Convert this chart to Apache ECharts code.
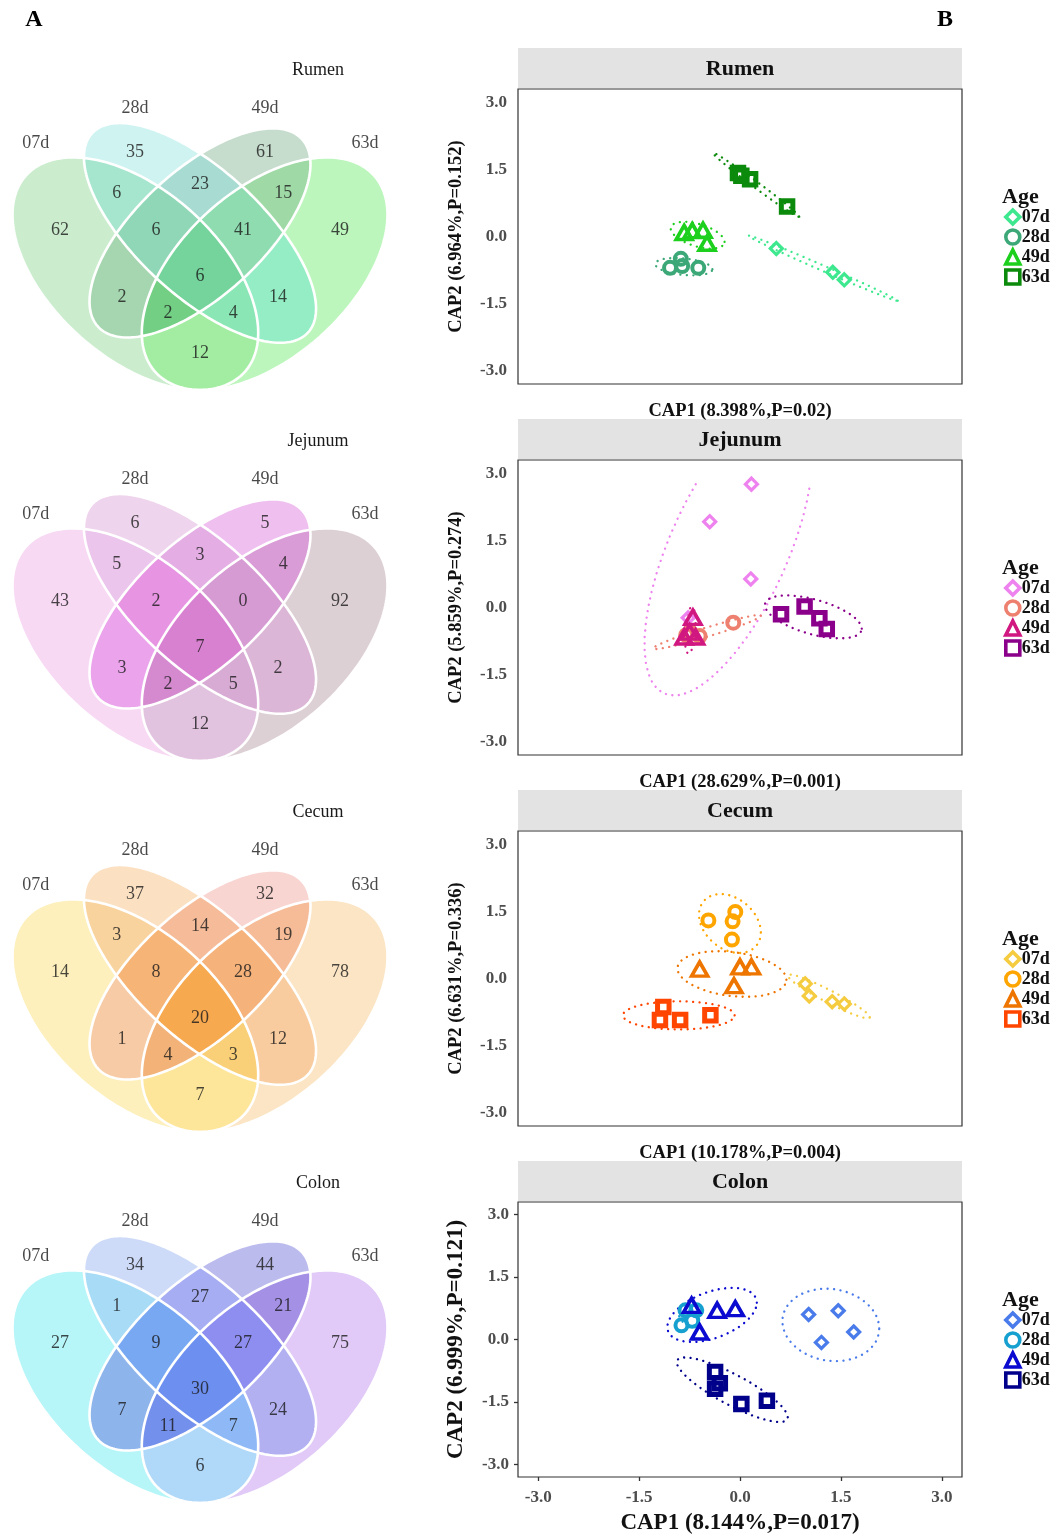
<!DOCTYPE html>
<html>
<head>
<meta charset="utf-8">
<script src="https://cdn.jsdelivr.net/npm/echarts@6/dist/echarts.min.js"></script>
<style>
html,body{margin:0;padding:0;background:#ffffff;}
#chart{width:1060px;height:1537px;}
</style>
</head>
<body>
<div id="chart"></div>
<script>
// ================= DATA =================
const tissues = ['Rumen', 'Jejunum', 'Cecum', 'Colon'];
const ages = ['07d', '28d', '49d', '63d'];
// Venn regions: A=07d, B=28d, C=49d, D=63d
const regionKeys = ['A','B','C','D','AB','BC','CD','ABC','BCD','ABCD','AC','ACD','ABD','BD','AD'];
const rumenCounts   = [62, 35, 61, 49, 6, 23, 15, 6, 41, 6, 2, 2, 4, 14, 12];
const jejunumCounts = [43, 6, 5, 92, 5, 3, 4, 2, 0, 7, 3, 2, 5, 2, 12];
const cecumCounts   = [14, 37, 32, 78, 3, 14, 19, 8, 28, 20, 1, 4, 3, 12, 7];
const colonCounts   = [27, 34, 44, 75, 1, 27, 21, 9, 27, 30, 7, 11, 7, 24, 6];

// CAP scores [CAP1, CAP2]
const rumen07d = [[0.54,-0.27],[1.38,-0.80],[1.55,-0.97]];
const rumen28d = [[-1.04,-0.70],[-0.88,-0.50],[-0.86,-0.66],[-0.62,-0.70]];
const rumen49d = [[-0.83,0.09],[-0.71,0.13],[-0.55,0.14],[-0.49,-0.15]];
const rumen63d = [[-0.03,1.42],[0.02,1.36],[0.15,1.28],[0.70,0.67]];

const jejunum07d = [[0.17,2.76],[-0.45,1.92],[0.16,0.64],[-0.77,-0.23]];
const jejunum28d = [[-0.80,-0.62],[-0.74,-0.55],[-0.60,-0.64],[-0.10,-0.34]];
const jejunum49d = [[-0.70,-0.22],[-0.83,-0.66],[-0.66,-0.66],[-0.75,-0.55]];
const jejunum63d = [[0.61,-0.15],[0.96,0.02],[1.18,-0.24],[1.29,-0.48]];

const cecum07d = [[0.97,-0.12],[1.03,-0.39],[1.37,-0.52],[1.55,-0.57]];
const cecum28d = [[-0.47,1.30],[-0.07,1.49],[-0.11,1.28],[-0.12,0.87]];
const cecum49d = [[-0.60,0.21],[0.00,0.26],[0.17,0.26],[-0.09,-0.16]];
const cecum63d = [[-1.14,-0.64],[-1.19,-0.93],[-0.89,-0.93],[-0.44,-0.82]];

const colon07d = [[1.02,0.60],[1.46,0.69],[1.69,0.18],[1.21,-0.07]];
const colon28d = [[-0.81,0.70],[-0.65,0.70],[-0.87,0.34],[-0.71,0.45]];
const colon49d = [[-0.72,0.82],[-0.34,0.70],[-0.07,0.74],[-0.60,0.18]];
const colon63d = [[-0.37,-0.78],[-0.30,-1.05],[-0.37,-1.18],[0.02,-1.55],[0.40,-1.47]];

// confidence ellipses: [centerX, centerY, halfRangeX, halfRangeY, correlation]
const rumenEllipses   = [[1.235,-0.71,1.11,0.73,-0.996],[-0.835,-0.675,0.425,0.195,-0.3],[-0.63,0.03,0.40,0.30,-0.5],[0.24,1.155,0.64,0.715,-0.993]];
const jejunumEllipses = [[-0.17,1.30,1.25,3.27,0.65],[-0.49,-0.55,0.80,0.38,0.96],[-0.74,-0.51,0.08,0.52,0.3],[1.09,-0.21,0.72,0.48,-0.55]];
const cecumEllipses   = [[1.32,-0.40,0.61,0.49,-0.95],[-0.15,1.23,0.46,0.66,-0.3],[-0.12,0.10,0.81,0.51,-0.25],[-0.91,-0.825,0.83,0.315,0.0]];
const colonEllipses   = [[1.35,0.35,0.72,0.87,-0.1],[-0.76,0.55,0.15,0.22,-0.3],[-0.415,0.59,0.665,0.65,0.45],[-0.115,-1.205,0.825,0.775,-0.85]];

const cap1Labels = ['CAP1 (8.398%,P=0.02)','CAP1 (28.629%,P=0.001)','CAP1 (10.178%,P=0.004)','CAP1 (8.144%,P=0.017)'];
const cap2Labels = ['CAP2 (6.964%,P=0.152)','CAP2 (5.859%,P=0.274)','CAP2 (6.631%,P=0.336)','CAP2 (6.999%,P=0.121)'];
const tickValues = [-3, -1.5, 0, 1.5, 3];

// ================= LAYOUT / STYLE =================
const SERIF = '"Liberation Serif", "Times New Roman", serif';
// VennDiagram quad layout in unit square: [cx, cy, a, b, rotationDeg] for A,B,C,D
const vennEllipses = [[0.35,0.47,0.35,0.20,135],[0.50,0.57,0.35,0.15,135],[0.50,0.57,0.33,0.15,45],[0.65,0.47,0.35,0.20,45]];
const regionLabelPos = [[0.175,0.577],[0.349,0.768],[0.651,0.768],[0.825,0.577],[0.307,0.668],[0.5,0.69],[0.693,0.668],[0.398,0.577],[0.600,0.577],[0.5,0.464],[0.319,0.413],[0.426,0.374],[0.577,0.374],[0.681,0.413],[0.5,0.276]];
const setLabelPos = [[0.119,0.790],[0.349,0.876],[0.651,0.876],[0.883,0.790]];
const vennFills = [
  ['#cbedce','#cff3f1','#c6dccd','#bdf6bd','#a6e6cf','#a8dcd2','#9fd9a6','#8fd7b6','#8edcb0','#74d49c','#a6d6b0','#72cf84','#8ae6b5','#94edc4','#a2eda2'],
  ['#f8d9f4','#eed4ec','#efbff0','#ddd0d4','#ebc5ec','#e4aee4','#d99cd6','#e795e2','#d79bd4','#d981d1','#eba4eb','#d58ad0','#d8abd4','#dcb6d6','#e2c3df'],
  ['#fdf0bc','#fbe0c2','#f9d5d1','#fbe5c4','#f9d39e','#f6bc9a','#f6bc98','#f6b577','#f5b27b','#f6a94f','#f7cba5','#f3b378','#f9d078','#f8cc9e','#fde59a'],
  ['#b6f5f8','#cedbf8','#bcbbee','#e1caf7','#a8dcf6','#a6adf3','#a491e6','#78a8f2','#8e8ef0','#6c8ff0','#8eb4ec','#7390ec','#8fb9f6','#b3b0f2','#b0d8f8']
];
const groupColors = [
  ['#3ee88f','#3ca878','#1ed01e','#0b8a0b'],
  ['#ee82ee','#ee8070','#d01880','#8b008b'],
  ['#f5cc40','#ffa500','#ee7600','#ff4500'],
  ['#4a7bea','#16a0d0','#0a0ad0','#00008b']
];
const shapes = ['diamond','circle','triangle','rect'];
const symbolSizes = [12, 12, [16,14], 11.5];
const borderWidths = [3.2, 4, 3.6, 5];

const PANEL_DY = 371;
const VX0 = 200, VKX = 431, VY0 = 390, VKY = 408;
const vGridTop = 40, vGridH = 360, vGridLeft = 0, vGridW = 420;
const uMin = 0.5 + (vGridLeft - VX0) / VKX;
const uMax = 0.5 + (vGridLeft + vGridW - VX0) / VKX;
const vMax = 0.185 + (VY0 - vGridTop) / VKY;
const vMin = 0.185 + (VY0 - vGridTop - vGridH) / VKY;

const sGridLeft = 518, sGridW = 444;
const sGridTop = [89, 460, 831, 1202];
const sGridH = [295, 295, 295, 275];
const legendTop = [208, 579, 950, 1311];
const ageY = [197, 568, 939, 1300];

const pointsBy = [
  [rumen07d, rumen28d, rumen49d, rumen63d],
  [jejunum07d, jejunum28d, jejunum49d, jejunum63d],
  [cecum07d, cecum28d, cecum49d, cecum63d],
  [colon07d, colon28d, colon49d, colon63d]
];
const countsBy = [rumenCounts, jejunumCounts, cecumCounts, colonCounts];
const ellipsesBy = [rumenEllipses, jejunumEllipses, cecumEllipses, colonEllipses];

// region code (bitmask A=1,B=2,C=4,D=8) -> index
const codeToRegion = {};
regionKeys.forEach((key, i) => {
  let c = 0;
  for (const ch of key) c |= (1 << 'ABCD'.indexOf(ch));
  codeToRegion[c] = i;
});

function ellipseInterval(el, v) {
  const [cx, cy, a, b, deg] = el;
  const th = deg * Math.PI / 180, c = Math.cos(th), s = Math.sin(th);
  const dy = v - cy;
  const A = c * c / (a * a) + s * s / (b * b);
  const B = 2 * dy * c * s * (1 / (a * a) - 1 / (b * b));
  const C = dy * dy * (s * s / (a * a) + c * c / (b * b)) - 1;
  const disc = B * B - 4 * A * C;
  if (disc <= 0) return null;
  const sq = Math.sqrt(disc);
  return [cx + (-B - sq) / (2 * A), cx + (-B + sq) / (2 * A)];
}

function vennRender(k) {
  return function (params, api) {
    const c00 = api.coord([0, 0]), c11 = api.coord([1, 1]);
    const X0 = c00[0], KX = c11[0] - c00[0], Y0 = c00[1], KY = c11[1] - c00[1];
    const fills = vennFills[k];
    const children = [];
    const yStart = Math.floor(Y0 + 0.95 * KY), yEnd = Math.ceil(Y0 + 0.1 * KY);
    for (let py = yStart; py < yEnd; py++) {
      const v = (py + 0.5 - Y0) / KY;
      const ivs = [], pts = [];
      for (let e = 0; e < 4; e++) {
        const iv = ellipseInterval(vennEllipses[e], v);
        ivs.push(iv);
        if (iv) pts.push(iv[0], iv[1]);
      }
      if (!pts.length) continue;
      pts.sort((p, q) => p - q);
      for (let j = 0; j < pts.length - 1; j++) {
        const a = pts[j], b = pts[j + 1];
        if (b - a < 1e-9) continue;
        const m = (a + b) / 2;
        let code = 0;
        for (let e = 0; e < 4; e++) {
          const iv = ivs[e];
          if (iv && m >= iv[0] && m <= iv[1]) code |= (1 << e);
        }
        if (!code) continue;
        const x1 = X0 + a * KX, x2 = X0 + b * KX;
        children.push({type: 'rect', shape: {x: x1 - 0.4, y: py, width: x2 - x1 + 0.8, height: 1},
          style: {fill: fills[codeToRegion[code]]}});
      }
    }
    for (const el of vennEllipses) {
      const [cx, cy, a, b, deg] = el;
      const th = deg * Math.PI / 180;
      const poly = [];
      for (let i = 0; i < 240; i++) {
        const t = 2 * Math.PI * i / 240;
        const u = cx + a * Math.cos(t) * Math.cos(th) - b * Math.sin(t) * Math.sin(th);
        const w = cy + a * Math.cos(t) * Math.sin(th) + b * Math.sin(t) * Math.cos(th);
        poly.push(api.coord([u, w]));
      }
      children.push({type: 'polygon', shape: {points: poly}, style: {fill: 'none', stroke: '#ffffff', lineWidth: 2.6}});
    }
    return {type: 'group', children: children};
  };
}

function ellipsePathRender(k) {
  return function (params, api) {
    const cx = api.value(0), cy = api.value(1), sx = api.value(2), sy = api.value(3), r = api.value(4), gi = api.value(5);
    const n = 51, rr = Math.sqrt(Math.max(0, 1 - r * r));
    const runs = [];
    let cur = null;
    for (let i = 0; i <= n; i++) {
      const t = 2 * Math.PI * i / n;
      const x = cx + sx * Math.cos(t);
      const y = cy + sy * (r * Math.cos(t) + rr * Math.sin(t));
      if (Math.abs(x) <= 3 && Math.abs(y) <= 3) {
        if (!cur) { cur = {start: i, end: i, pts: []}; runs.push(cur); }
        cur.pts.push(api.coord([x, y]));
        cur.end = i;
      } else {
        cur = null;
      }
    }
    if (runs.length > 1 && runs[0].start === 0 && runs[runs.length - 1].end === n) {
      const last = runs.pop();
      runs[0].pts = last.pts.concat(runs[0].pts.slice(1));
    }
    return {
      type: 'group',
      children: runs.filter(q => q.pts.length > 1).map(q => ({
        type: 'polyline', shape: {points: q.pts},
        style: {fill: 'none', stroke: groupColors[k][gi], lineWidth: 2.3, lineDash: [0.1, 6.4], lineCap: 'round'}
      }))
    };
  };
}

// ================= OPTION =================
const grid = [], xAxis = [], yAxis = [], series = [], legend = [], graphic = [];

for (let k = 0; k < 4; k++) {
  grid.push({left: vGridLeft, top: vGridTop + PANEL_DY * k, width: vGridW, height: vGridH, show: false, outerBoundsMode: 'none'});
  xAxis.push({type: 'value', gridIndex: k, min: uMin, max: uMax, show: false});
  yAxis.push({type: 'value', gridIndex: k, min: vMin, max: vMax, show: false});
}
for (let k = 0; k < 4; k++) {
  const big = k === 3;
  grid.push({left: sGridLeft, top: sGridTop[k], width: sGridW, height: sGridH[k], show: true,
    borderColor: '#333333', borderWidth: 1.2, backgroundColor: '#ffffff', outerBoundsMode: 'none'});
  xAxis.push({
    type: 'value', gridIndex: 4 + k, min: -3.3, max: 3.3, position: 'bottom',
    splitLine: {show: false}, axisLine: {show: false, onZero: false},
    axisTick: {show: big, customValues: tickValues, length: 4, lineStyle: {color: '#333333', width: 1.3}},
    axisLabel: {show: big, customValues: tickValues, formatter: v => Number(v).toFixed(1), margin: 12,
      fontFamily: SERIF, fontWeight: 'bold', fontSize: 17, color: '#4d4d4d'},
    name: cap1Labels[k], nameLocation: 'middle', nameGap: big ? 35 : 18, nameMoveOverlap: false,
    nameTextStyle: {fontFamily: SERIF, fontWeight: 'bold', fontSize: big ? 23 : 18.5, color: '#111111', verticalAlign: 'top'}
  });
  yAxis.push({
    type: 'value', gridIndex: 4 + k, min: -3.3, max: 3.3, position: 'left',
    splitLine: {show: false}, axisLine: {show: false, onZero: false},
    axisTick: {show: big, customValues: tickValues, length: 4, lineStyle: {color: '#333333', width: 1.3}},
    axisLabel: {show: true, customValues: tickValues, formatter: v => Number(v).toFixed(1), margin: big ? 9 : 11,
      fontFamily: SERIF, fontWeight: 'bold', fontSize: 17, color: '#4d4d4d'},
    name: cap2Labels[k], nameLocation: 'middle', nameGap: big ? 50 : 52, nameMoveOverlap: false,
    nameTextStyle: {fontFamily: SERIF, fontWeight: 'bold', fontSize: big ? 23 : 18.5, color: '#111111'}
  });
}

for (let k = 0; k < 4; k++) {
  // Venn regions + outlines
  series.push({type: 'custom', xAxisIndex: k, yAxisIndex: k, data: [[0.5, 0.5]], renderItem: vennRender(k), silent: true, z: 1});
  // region counts
  series.push({
    type: 'scatter', xAxisIndex: k, yAxisIndex: k, silent: true, z: 3,
    data: countsBy[k].map((c, i) => ({value: [regionLabelPos[i][0], regionLabelPos[i][1], c], name: String(c)})),
    symbolSize: 1, itemStyle: {color: 'rgba(0,0,0,0)'},
    label: {show: true, position: 'inside', formatter: '{b}', fontFamily: SERIF, fontSize: 18, color: '#1a1a1a'}
  });
  // set names
  series.push({
    type: 'scatter', xAxisIndex: k, yAxisIndex: k, silent: true, z: 3,
    data: ages.map((a, i) => ({value: [setLabelPos[i][0], setLabelPos[i][1]], name: a})),
    symbolSize: 1, itemStyle: {color: 'rgba(0,0,0,0)'},
    label: {show: true, position: 'inside', formatter: '{b}', fontFamily: SERIF, fontSize: 18, color: '#1a1a1a'}
  });
  // ellipses
  series.push({
    type: 'custom', xAxisIndex: 4 + k, yAxisIndex: 4 + k, silent: true, z: 2, clip: true,
    data: ellipsesBy[k].map((e, i) => e.concat([i])), encode: {x: 0, y: 1},
    renderItem: ellipsePathRender(k)
  });
  // points
  ages.forEach((a, i) => {
    series.push({
      type: 'scatter', name: tissues[k] + ' ' + a, xAxisIndex: 4 + k, yAxisIndex: 4 + k, z: 4,
      data: pointsBy[k][i], symbol: shapes[i], symbolSize: symbolSizes[i],
      itemStyle: {color: 'rgba(255,255,255,0)', borderColor: groupColors[k][i], borderWidth: borderWidths[i], opacity: 1}
    });
  });
  legend.push({
    orient: 'vertical', left: 1004, top: legendTop[k], padding: 0,
    itemWidth: 14, itemHeight: 14, itemGap: 2, selectedMode: false,
    formatter: name => name.split(' ')[1],
    textStyle: {fontFamily: SERIF, fontWeight: 'bold', fontSize: 18, color: '#111111', padding: [0, 0, 0, -3]},
    data: ages.map((a, i) => ({
      name: tissues[k] + ' ' + a, icon: shapes[i],
      itemStyle: {color: 'rgba(255,255,255,0)', borderColor: groupColors[k][i], borderWidth: 3.6}
    }))
  });
  // decorations
  graphic.push({type: 'rect', silent: true, shape: {x: sGridLeft, y: 48 + PANEL_DY * k, width: sGridW, height: 40}, style: {fill: '#e3e3e3'}, z: 0});
  graphic.push({type: 'text', silent: true, x: sGridLeft + sGridW / 2, y: 69 + PANEL_DY * k,
    style: {text: tissues[k], fontFamily: SERIF, fontWeight: 'bold', fontSize: 22, fill: '#111111', textAlign: 'center', textVerticalAlign: 'middle'}});
  graphic.push({type: 'text', silent: true, x: 318, y: 70 + PANEL_DY * k,
    style: {text: tissues[k], fontFamily: SERIF, fontSize: 18, fill: '#1a1a1a', textAlign: 'center', textVerticalAlign: 'middle'}});
  graphic.push({type: 'text', silent: true, x: 1002, y: ageY[k],
    style: {text: 'Age', fontFamily: SERIF, fontWeight: 'bold', fontSize: 22, fill: '#111111', textAlign: 'left', textVerticalAlign: 'middle'}});
}
graphic.push({type: 'text', silent: true, x: 34, y: 20,
  style: {text: 'A', fontFamily: SERIF, fontWeight: 'bold', fontSize: 24, fill: '#000000', textAlign: 'center', textVerticalAlign: 'middle'}});
graphic.push({type: 'text', silent: true, x: 945, y: 20,
  style: {text: 'B', fontFamily: SERIF, fontWeight: 'bold', fontSize: 24, fill: '#000000', textAlign: 'center', textVerticalAlign: 'middle'}});

const chart = echarts.init(document.getElementById('chart'), null, {renderer: 'canvas'});
chart.setOption({
  backgroundColor: '#ffffff',
  animation: false,
  tooltip: {show: false},
  grid: grid, xAxis: xAxis, yAxis: yAxis,
  legend: legend, graphic: {elements: graphic},
  series: series
});
</script>
</body>
</html>
